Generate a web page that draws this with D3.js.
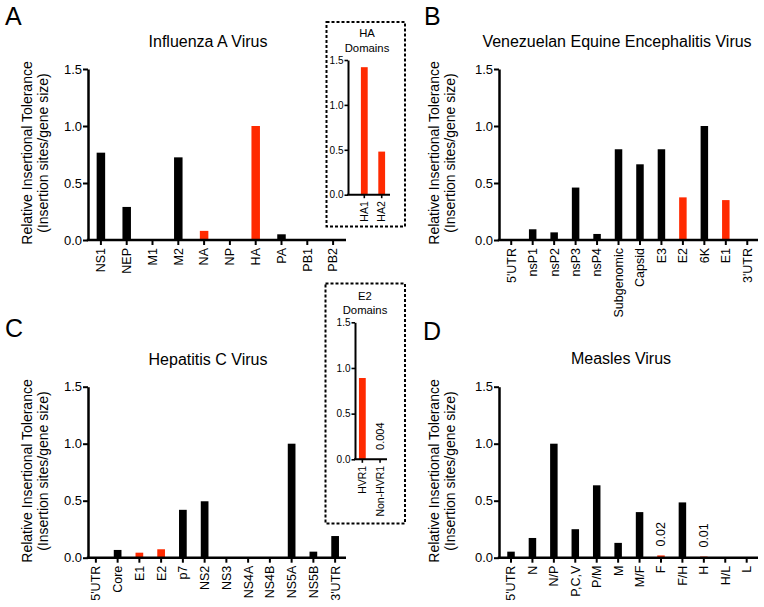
<!DOCTYPE html>
<html><head><meta charset="utf-8">
<script src="https://cdn.jsdelivr.net/npm/d3@7"></script>
<style>
body{margin:0;background:#fff;}
svg{display:block;font-family:"Liberation Sans",Arial,Helvetica,sans-serif;}
</style></head>
<body><svg id="c" width="764" height="607"></svg>
<script>
// ---- data ----
const yTicks = [0, 0.5, 1.0, 1.5];

const fluCats = ["NS1","NEP","M1","M2","NA","NP","HA","PA","PB1","PB2"];
const fluVals = [0.766,0.29,0,0.725,0.08,0,1.0,0.05,0,0];
const fluRed  = ["NA","HA"];

const haCats = ["HA1","HA2"];
const haVals = [1.42,0.48];

const veeCats = ["5'UTR","nsP1","nsP2","nsP3","nsP4","Subgenomic","Capsid","E3","E2","6K","E1","3'UTR"];
const veeVals = [0,0.094,0.067,0.46,0.053,0.796,0.664,0.796,0.374,1.0,0.35,0];
const veeRed  = ["E2","E1"];

const hcvCats = ["5'UTR","Core","E1","E2","p7","NS2","NS3","NS4A","NS4B","NS5A","NS5B","3'UTR"];
const hcvVals = [0,0.068,0.044,0.074,0.42,0.495,0,0,0,1.0,0.053,0.19];
const hcvRed  = ["E1","E2"];

const e2Cats = ["HVR1","Non-HVR1"];
const e2Vals = [0.89,0.004];
const e2Notes = {"Non-HVR1":"0.004"};

const mvCats = ["5'UTR","N","N/P","P,C,V","P/M","M","M/F","F","F/H","H","H/L","L"];
const mvVals = [0.053,0.173,1.0,0.25,0.635,0.13,0.40,0.02,0.485,0.01,0,0];
const mvRed  = ["F","H"];
const mvNotes = {"F":"0.02","H":"0.01"};

const RED = "#ff2a00";
const svg = d3.select("#c");

function panel(o){
  const g = svg.append("g");
  const x = d3.scaleBand().domain(o.cats).range(o.xr).paddingInner(0).paddingOuter(0);
  const y = d3.scaleLinear().domain([0,1.5]).range([o.y0,o.y1]);
  const bw = o.bw;
  // bars
  g.selectAll("rect.bar").data(o.cats.map((c,i)=>({c,v:o.vals[i]}))).enter()
    .append("rect").attr("class","bar")
    .attr("x",d=>x(d.c)+x.bandwidth()/2-bw/2)
    .attr("width",bw)
    .attr("y",d=>y(d.v))
    .attr("height",d=>o.y0-y(d.v))
    .attr("fill",d=>(o.red||[]).includes(d.c)?RED:"#000");
  // y axis
  const ya = g.append("g").attr("transform",`translate(${o.ax},0)`)
    .call(d3.axisLeft(y).tickValues(yTicks).tickFormat(d3.format(".1f")).tickSize(o.tk).tickSizeOuter(0).tickPadding(1));
  ya.select(".domain").attr("stroke-width",o.sw);
  ya.selectAll(".tick line").attr("stroke-width",o.sw*0.8);
  ya.selectAll(".tick text").style("font-size",o.tf+"px").style("font-family","Liberation Sans, Arial").attr("fill","#000");
  // x axis
  const xa = g.append("g").attr("transform",`translate(0,${o.y0})`)
    .call(d3.axisBottom(x).tickSize(o.tk).tickSizeOuter(0));
  xa.select(".domain").remove();
  xa.append("line").attr("x1",o.ax-o.sw/2).attr("x2",o.xend).attr("stroke","#000").attr("stroke-width",o.sw);
  xa.selectAll(".tick line").attr("stroke-width",o.sw*0.8);
  xa.selectAll(".tick text").attr("transform","rotate(-90)").attr("x",-(o.tk+3)).attr("y",0).attr("dy","0.35em")
    .style("text-anchor","end").style("font-size",o.xf+"px").style("font-family","Liberation Sans, Arial").attr("fill","#000");
  // notes
  if(o.notes){
    Object.entries(o.notes).forEach(([c,t])=>{
      const v = o.vals[o.cats.indexOf(c)];
      g.append("text").attr("transform",`translate(${x(c)+x.bandwidth()/2},${y(v)-9}) rotate(-90)`)
        .attr("dy","0.35em").attr("text-anchor","start").style("font-size",o.nf+"px").text(t);
    });
  }
  return {x,y};
}

function ylabel(cx, cy){
  const t = svg.append("g").attr("transform",`translate(${cx},${cy}) rotate(-90)`);
  t.append("text").attr("x",0).attr("y",0).attr("text-anchor","middle").style("font-size","14px").text("Relative Insertional Tolerance");
  t.append("text").attr("x",0).attr("y",16).attr("text-anchor","middle").style("font-size","14px").text("(Insertion sites/gene size)");
}
function title(cx, by, s){ svg.append("text").attr("x",cx).attr("y",by).attr("text-anchor","middle").style("font-size","16px").text(s); }
function letter(x, by, s){ svg.append("text").attr("x",x).attr("y",by).style("font-size","25px").text(s); }

// Panel A
letter(5,25,"A");
title(208,47,"Influenza A Virus");
ylabel(32,153);
panel({cats:fluCats,vals:fluVals,red:fluRed,xr:[88,346],y0:240,y1:69,ax:88,xend:346,bw:8.5,sw:2.5,tk:5,tf:13,xf:12.5});

// HA inset
svg.append("rect").attr("x",326.5).attr("y",22).attr("width",78.5).attr("height",204.5)
  .attr("fill","none").attr("stroke","#000").attr("stroke-width",2).attr("stroke-dasharray","3,2");
svg.append("text").attr("x",367).attr("y",37).attr("text-anchor","middle").style("font-size","11.3px").text("HA");
svg.append("text").attr("x",367).attr("y",51.5).attr("text-anchor","middle").style("font-size","11.3px").text("Domains");
panel({cats:haCats,vals:haVals,red:haCats,xr:[355.6,390.4],y0:194.7,y1:60,ax:348,xend:390,bw:6.8,sw:2,tk:3.5,tf:10,xf:10.5});

// Panel B
letter(424,25,"B");
title(617,47,"Venezuelan Equine Encephalitis Virus");
ylabel(439,153);
panel({cats:veeCats,vals:veeVals,red:veeRed,xr:[500.5,758],y0:240,y1:69,ax:499,xend:758,bw:7.5,sw:2.5,tk:5,tf:13,xf:12.5});

// Panel C
letter(5,337,"C");
title(208,365,"Hepatitis C Virus");
ylabel(32,471);
panel({cats:hcvCats,vals:hcvVals,red:hcvRed,xr:[85,346],y0:557.7,y1:386.7,ax:88,xend:346,bw:7.7,sw:2.5,tk:5,tf:13,xf:12.5});

// E2 inset
svg.append("rect").attr("x",325.5).attr("y",283.5).attr("width",79.5).attr("height",240)
  .attr("fill","none").attr("stroke","#000").attr("stroke-width",2).attr("stroke-dasharray","3,2");
svg.append("text").attr("x",365).attr("y",300).attr("text-anchor","middle").style("font-size","11.3px").text("E2");
svg.append("text").attr("x",365).attr("y",313.5).attr("text-anchor","middle").style("font-size","11.3px").text("Domains");
panel({cats:e2Cats,vals:e2Vals,red:e2Cats,notes:e2Notes,nf:11,xr:[353.5,388.9],y0:459.3,y1:322.3,ax:355,xend:387,bw:6.8,sw:2,tk:3.5,tf:10,xf:10.5});

// Panel D
letter(423,340,"D");
title(621,364,"Measles Virus");
ylabel(439,471);
panel({cats:mvCats,vals:mvVals,red:mvRed,notes:mvNotes,nf:12.5,xr:[500.3,757.4],y0:557.7,y1:386.7,ax:499,xend:758,bw:7.5,sw:2.5,tk:5,tf:13,xf:12.5});
</script></body></html>
